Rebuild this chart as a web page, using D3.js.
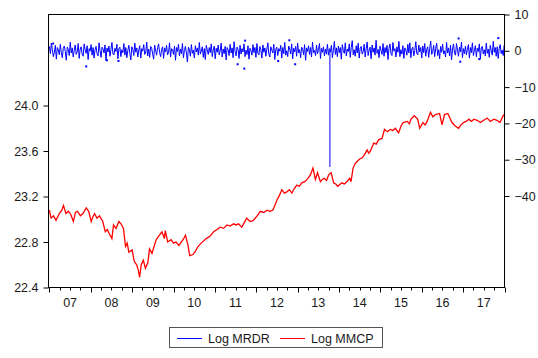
<!DOCTYPE html>
<html>
<head>
<meta charset="utf-8">
<script src="https://cdn.jsdelivr.net/npm/d3@7"></script>
<style>
  body { margin: 0; background: #fff; }
  svg text { font-family: "Liberation Sans", Arial, sans-serif; font-size: 12.5px; fill: #1a1a1a; }
</style>
</head>
<body>
<div id="root"></div>
<script>
// Log MMCP (left axis) at irregular dates (decimal years)
const mmcpYears = [
  2007.00, 2007.04, 2007.10, 2007.16, 2007.24, 2007.30, 2007.34, 2007.40, 2007.46, 2007.52, 2007.58, 2007.63,
  2007.68, 2007.75, 2007.81, 2007.89, 2007.95, 2008.01, 2008.05, 2008.09, 2008.15, 2008.21, 2008.29, 2008.35,
  2008.40, 2008.45, 2008.51, 2008.55, 2008.61, 2008.68, 2008.73, 2008.79, 2008.84, 2008.88, 2008.92, 2009.00,
  2009.05, 2009.11, 2009.15, 2009.18, 2009.22, 2009.27, 2009.32, 2009.38, 2009.42, 2009.48, 2009.53, 2009.58,
  2009.66, 2009.72, 2009.78, 2009.80, 2009.86, 2009.94, 2010.00, 2010.06, 2010.13, 2010.23, 2010.29, 2010.35,
  2010.39, 2010.47, 2010.53, 2010.59, 2010.67, 2010.79, 2010.88, 2010.97, 2011.05, 2011.13, 2011.21, 2011.29,
  2011.37, 2011.45, 2011.51, 2011.57, 2011.65, 2011.71, 2011.77, 2011.85, 2011.93, 2012.02, 2012.10, 2012.18,
  2012.26, 2012.33, 2012.40, 2012.45, 2012.50, 2012.56, 2012.62, 2012.68, 2012.74, 2012.80, 2012.86, 2012.92,
  2012.98, 2013.04, 2013.10, 2013.17, 2013.23, 2013.31, 2013.37, 2013.43, 2013.48, 2013.55, 2013.60, 2013.64,
  2013.70, 2013.75, 2013.81, 2013.87, 2013.92, 2013.97, 2014.07, 2014.13, 2014.19, 2014.26, 2014.29, 2014.34,
  2014.39, 2014.44, 2014.50, 2014.56, 2014.62, 2014.68, 2014.72, 2014.76, 2014.84, 2014.90, 2014.96, 2015.04,
  2015.10, 2015.17, 2015.24, 2015.30, 2015.36, 2015.44, 2015.50, 2015.55, 2015.65, 2015.70, 2015.74, 2015.82,
  2015.90, 2015.95, 2016.03, 2016.08, 2016.13, 2016.21, 2016.27, 2016.33, 2016.43, 2016.49, 2016.55, 2016.63,
  2016.68, 2016.73, 2016.81, 2016.89, 2016.95, 2017.01, 2017.07, 2017.14, 2017.20, 2017.26, 2017.34, 2017.42,
  2017.50, 2017.58, 2017.66, 2017.74, 2017.82, 2017.89, 2017.98
];
const mmcpValues = [
  23.08, 23.01, 23.03, 22.99, 23.05, 23.08, 23.12, 23.05, 23.07, 23.04, 22.98, 23.06,
  23.07, 23.03, 23.05, 23.10, 23.07, 22.98, 23.02, 23.05, 23.01, 23.03, 22.98, 22.89,
  22.91, 22.87, 22.83, 22.95, 22.92, 22.98, 22.96, 22.92, 22.76, 22.79, 22.71, 22.73,
  22.63, 22.60, 22.55, 22.49, 22.60, 22.64, 22.57, 22.62, 22.74, 22.70, 22.76, 22.82,
  22.86, 22.89, 22.83, 22.90, 22.80, 22.82, 22.79, 22.80, 22.77, 22.82, 22.86, 22.77,
  22.68, 22.69, 22.72, 22.76, 22.79, 22.83, 22.85, 22.89, 22.91, 22.93, 22.92, 22.95,
  22.94, 22.96, 22.95, 22.96, 22.93, 22.97, 23.01, 22.98, 22.99, 23.03, 23.07, 23.06,
  23.08, 23.07, 23.08, 23.12, 23.17, 23.21, 23.26, 23.23, 23.24, 23.26, 23.23, 23.27,
  23.30, 23.29, 23.32, 23.33, 23.35, 23.39, 23.45, 23.35, 23.41, 23.33, 23.35, 23.36,
  23.34, 23.39, 23.41, 23.32, 23.31, 23.29, 23.32, 23.31, 23.33, 23.36, 23.33, 23.45,
  23.49, 23.51, 23.53, 23.54, 23.57, 23.61, 23.58, 23.60, 23.67, 23.66, 23.70, 23.71,
  23.79, 23.77, 23.79, 23.78, 23.80, 23.76, 23.82, 23.85, 23.86, 23.84, 23.88, 23.91,
  23.88, 23.80, 23.85, 23.83, 23.86, 23.94, 23.90, 23.92, 23.93, 23.83, 23.92, 23.93,
  23.89, 23.85, 23.82, 23.80, 23.83, 23.85, 23.86, 23.88, 23.86, 23.88, 23.87, 23.85,
  23.87, 23.89, 23.86, 23.88, 23.87, 23.85, 23.92
];

// Log MRDR (right axis), one reading about every 9 days from Jan 2007
const mrdrStart = 2007;
const mrdrStep = 0.024;
const mrdrValues = [
  1.2, -0.8, 2.1, 0.3, -1.6, -0.4, 1.5, -2.3, 0.9, 0.2, -1.1, 1.8, -0.5, -1.9, 0.7, 1.3, -0.2, -2.6, 1.0, 0.4,
  -1.3, 2.4, -0.6, 0.8, -1.7, 0.1, 1.6, -1.0, -0.3, 2.0, -2.1, 0.5, 1.1, -0.9, -1.5, 1.9, 0.2, -0.7, 1.4, -2.4,
  0.6, -0.1, 1.7, -1.2, 0.9, -2.0, 0.3, 1.2, -0.8, -1.4, 2.2, 0.0, -1.8, 1.0, 0.5, -0.6, 1.6, -2.7, 0.8, -0.3,
  1.3, -1.5, 0.4, 2.3, -0.9, -1.1, 0.7, -0.2, 1.8, -2.2, 0.6, 1.0, -1.6, 0.3, -0.5, 2.0, -1.2, 0.9, -1.9, 0.1,
  1.5, -0.7, -2.5, 1.1, 0.4, -1.3, 2.1, -0.4, 0.8, -1.7, 0.2, 1.4, -2.0, 0.6, -0.1, 1.7, -1.0, -0.6, 2.4, -1.4,
  0.5, -1.8, 1.2, 0.7, -0.9, -2.3, 1.6, 0.0, -1.2, 0.9, 1.9, -0.5, -1.6, 0.4, 1.1, -2.1, 0.8, -0.3, 1.5, -1.1,
  -0.4, 2.2, -1.7, 0.6, 0.3, -1.0, 1.3, -2.6, 0.9, -0.2, 1.8, -1.4, 0.5, -0.8, 2.0, -1.9, 0.1, 1.2, -0.6, -3.1,
  1.0, 0.4, -1.5, 1.7, -0.7, 0.2, -2.0, 1.4, -0.3, 0.8, -1.2, 2.3, -0.9, -0.1, 1.1, -1.8, 0.6, -2.4, 1.5, 0.3,
  -1.0, 0.9, -0.5, 1.9, -1.6, 0.2, 1.3, -2.2, 0.7, -0.4, 1.6, -1.1, 0.0, 2.1, -1.7, 0.5, -0.8, 1.2, -2.5, 0.9,
  0.3, -1.3, 1.8, -0.6, 0.8, -1.9, 2.5, -0.2, -1.4, 1.0, 0.4, -2.1, 1.5, -0.9, 0.6, -0.3, 1.9, -1.6, 0.2, -1.0,
  1.4, -2.3, 0.7, 0.1, -1.2, 1.7, -0.5, 0.9, -1.8, 2.0, -0.7, -1.1, 1.2, 0.3, -2.0, 1.6, -0.4, 0.8, -1.5, 0.5,
  2.2, -0.9, -1.7, 1.1, 0.2, -0.6, 1.8, -2.4, 0.4, 1.0, -1.3, 0.6, -0.1, 1.5, -2.0, 0.9, -0.8, 2.3, -1.2, 0.0,
  -1.6, 1.3, 0.5, -0.9, 1.9, -2.2, 0.7, -0.3, 1.2, -1.5, 2.1, -0.6, 0.3, -1.9, 1.0, 0.6, -1.1, 1.7, -2.6, 0.8,
  -0.2, 1.4, -1.0, 0.9, -1.7, 2.4, -0.5, 0.1, -1.3, 1.6, -0.8, 0.4, 2.0, -2.1, 0.7, -0.4, 1.1, -1.4, 0.5, -0.9,
  1.8, -1.2, 0.6, -0.3, 1.5, -1.9, 0.2, 2.6, -1.0, 0.8, -1.6, 1.3, -0.5, 0.9, -2.3, 1.7, 0.1, -0.7, 2.2, -1.4,
  0.5, -0.2, 1.9, -1.8, 0.9, 2.8, -1.1, 0.3, -1.5, 1.4, -0.6, 2.1, -2.0, 0.7, 1.2, -0.9, -0.3, 1.8, -1.7, 0.6,
  2.4, -1.3, 0.2, 1.0, -2.2, 1.6, -0.4, 0.8, -1.2, 2.9, -0.7, 0.4, -1.9, 1.3, 0.0, -1.0, 2.0, -1.5, 0.9, -0.5,
  1.5, -2.4, 0.7, 1.9, -0.8, -1.3, 2.3, -0.1, 0.6, -1.7, 1.1, -0.4, 2.6, -1.6, 0.3, -0.9, 1.4, -2.1, 0.8, 0.2,
  -1.2, 1.8, -0.6, 2.2, -1.9, 0.5, 1.0, -1.4, 0.1, 2.5, -0.8, -1.1, 1.6, -0.3, 0.9, -2.0, 1.3, -0.5, 2.0, -1.5,
  0.4, 1.1, -1.8, 0.7, 2.7, -1.0, -0.2, 1.5, -1.6, 0.6, 2.1, -1.3, 0.3, -2.2, 1.2, -0.4, 1.8, -0.9, 0.0, -1.7,
  2.3, -0.6, 0.8, -1.4, 1.6, -2.5, 0.5, 1.9, -0.7, -1.2, 2.0, 0.2, -1.5, 1.0, -0.3, 2.4, -1.9, 0.6, -0.8, 1.3,
  -1.1, 0.4, 1.7, -2.0, 0.9, -0.5, 2.2, -1.3, 0.1, 1.4, -1.6, 0.7, -0.2, 1.9, -2.3, 0.8, 1.2, -0.9, 0.3, -1.4,
  2.1, -0.7, 0.5, -1.8, 1.5, 0.0, -1.2, 2.6, -0.4, 0.9, -1.5, 1.1, -2.1, 0.6, 1.7, -0.8, 0.2, -1.3, 1.4, -0.5
];

// the one-day outlier of MRDR in late 2013
const mrdrSpikeYear = 2013.78;
const mrdrSpikeValue = -32;

// isolated MRDR observations (drawn as dots, no line through them)
const mrdrDotYears = [2007.09, 2007.89, 2008.39, 2008.67, 2011.55, 2011.71, 2011.73, 2012.53, 2012.80, 2012.94, 2016.89, 2016.93, 2017.39, 2017.85];
const mrdrDotValues = [2.0, -4.3, -2.6, -2.8, -3.7, -4.9, 2.8, -2.8, 2.9, -3.7, 3.4, -3.0, -2.3, 3.5];

// tick labels
const leftTicks = [22.4, 22.8, 23.2, 23.6, 24.0];
const rightTicks = [10, 0, -10, -20, -30, -40];
const yearLabels = ['07', '08', '09', '10', '11', '12', '13', '14', '15', '16', '17'];
const seriesNames = ['Log MRDR', 'Log MMCP'];

const width = 538, height = 358;
const plot = { left: 48.5, right: 504.5, top: 14.5, bottom: 287.5 };

const svg = d3.select('#root').append('svg')
  .attr('width', width)
  .attr('height', height)
  .attr('viewBox', [0, 0, width, height]);

const x = d3.scaleLinear().domain([2007, 2018]).range([49.4, plot.right]);
const yLeft = d3.scaleLinear().domain([22.4, 24.8]).range([plot.bottom, plot.top]);
const yRight = d3.scaleLinear().domain([-65.2, 10]).range([plot.bottom, plot.top]);

svg.append('clipPath').attr('id', 'clip')
  .append('rect')
  .attr('x', plot.left).attr('y', plot.top)
  .attr('width', plot.right - plot.left).attr('height', plot.bottom - plot.top);

const lines = svg.append('g').attr('clip-path', 'url(#clip)');

// blue series
const mrdrData = mrdrValues.map((v, i) => [mrdrStart + i * mrdrStep, v]);
lines.append('path')
  .datum(mrdrData)
  .attr('fill', 'none')
  .attr('stroke', '#0000ff')
  .attr('stroke-width', 1)
  .attr('d', d3.line().x(d => x(d[0])).y(d => yRight(d[1])));

// the outlier: straight drop and back on the same day
lines.append('line')
  .attr('x1', x(mrdrSpikeYear)).attr('x2', x(mrdrSpikeYear))
  .attr('y1', yRight(0)).attr('y2', yRight(mrdrSpikeValue))
  .attr('stroke', '#0000ff')
  .attr('stroke-width', 1);

lines.selectAll('rect.dot')
  .data(mrdrDotYears.map((t, i) => [t, mrdrDotValues[i]]))
  .join('rect')
  .attr('class', 'dot')
  .attr('x', d => x(d[0]) - 1)
  .attr('y', d => yRight(d[1]) - 1)
  .attr('width', 2)
  .attr('height', 2)
  .attr('fill', '#0000ff');

// red series
lines.append('path')
  .datum(mmcpYears.map((t, i) => [t, mmcpValues[i]]))
  .attr('fill', 'none')
  .attr('stroke', '#ff0000')
  .attr('stroke-width', 1.3)
  .attr('d', d3.line().x(d => x(d[0])).y(d => yLeft(d[1])));

// frame
svg.append('rect')
  .attr('x', plot.left).attr('y', plot.top)
  .attr('width', plot.right - plot.left).attr('height', plot.bottom - plot.top)
  .attr('fill', 'none')
  .attr('stroke', '#000')
  .attr('stroke-width', 1);

// left axis
const leftAxis = svg.append('g')
  .attr('transform', `translate(${plot.left},0)`)
  .call(d3.axisLeft(yLeft).tickValues(leftTicks).tickFormat(d3.format('.1f')).tickSizeOuter(0).tickSize(5).tickPadding(5));
leftAxis.select('.domain').remove();

// right axis
const rightAxis = svg.append('g')
  .attr('transform', `translate(${plot.right},0)`)
  .call(d3.axisRight(yRight).tickValues(rightTicks).tickSizeOuter(0).tickSize(5).tickPadding(5));
rightAxis.select('.domain').remove();

// bottom axis: year ticks, quarter minor ticks, labels in the middle of each year
const quarters = d3.range(2007, 2018.01, 0.25);
const bottom = svg.append('g').attr('transform', `translate(0,${plot.bottom})`);
bottom.selectAll('line')
  .data(quarters)
  .join('line')
  .attr('x1', d => Math.round(x(d)) + 0.5)
  .attr('x2', d => Math.round(x(d)) + 0.5)
  .attr('y1', 0)
  .attr('y2', d => (d % 1 === 0 ? 5 : 3))
  .attr('stroke', '#000');
bottom.selectAll('text')
  .data(yearLabels)
  .join('text')
  .attr('x', (d, i) => x(2007.5 + i))
  .attr('y', 19.5)
  .attr('text-anchor', 'middle')
  .text(d => d);

svg.selectAll('.tick text').style('font-size', '12.5px').style('font-family', '"Liberation Sans", Arial, sans-serif').attr('fill', '#1a1a1a');

// legend
const legend = svg.append('g');
legend.append('rect')
  .attr('x', 169.5).attr('y', 327.5)
  .attr('width', 213).attr('height', 20)
  .attr('fill', '#fff')
  .attr('stroke', '#555');
const legendItems = [
  { name: seriesNames[0], color: '#0000ff', x: 177 },
  { name: seriesNames[1], color: '#ff0000', x: 280 }
];
legendItems.forEach(item => {
  legend.append('line')
    .attr('x1', item.x).attr('x2', item.x + 25)
    .attr('y1', 338.5).attr('y2', 338.5)
    .attr('stroke', item.color);
  legend.append('text')
    .attr('x', item.x + 31)
    .attr('y', 343)
    .text(item.name);
});
</script>
</body>
</html>
